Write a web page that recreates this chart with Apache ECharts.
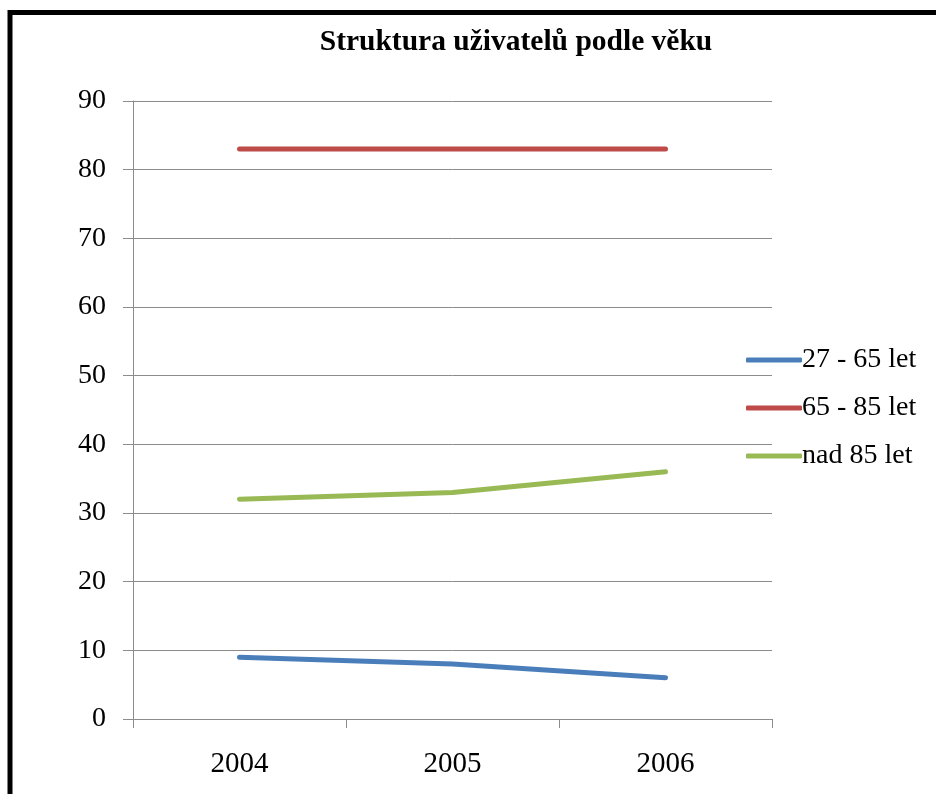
<!DOCTYPE html>
<html>
<head>
<meta charset="utf-8">
<script src="https://cdn.jsdelivr.net/npm/echarts@6/dist/echarts.min.js"></script>
<style>
  html, body { margin: 0; padding: 0; background: #ffffff; }
  #chart { width: 936px; height: 794px; }
</style>
</head>
<body>
<div id="chart"></div>
<script>
// Age structure of service users, 2004-2006
const years = ['2004', '2005', '2006'];
const seriesNames = ['27 - 65 let', '65 - 85 let', 'nad 85 let'];
const age27to65 = [9, 8, 6];
const age65to85 = [83, 83, 83];
const over85 = [32, 33, 36];
const seriesColors = ['#4A7EBB', '#BE4B48', '#98B954'];

const serif = '"Liberation Serif", "Times New Roman", serif';

const chart = echarts.init(document.getElementById('chart'));

function lineSeries(name, data, color) {
  return {
    name: name,
    type: 'line',
    data: data,
    symbol: 'none',
    lineStyle: { color: color, width: 5, cap: 'round', join: 'round' },
    itemStyle: { color: color },
    emphasis: { disabled: true }
  };
}

chart.setOption({
  animation: false,
  backgroundColor: '#ffffff',
  title: {
    text: 'Struktura uživatelů podle věku',
    left: 511,
    textAlign: 'center',
    top: 22,
    textStyle: { fontFamily: serif, fontWeight: 'bold', fontSize: 29.5, color: '#000' }
  },
  legend: {
    orient: 'vertical',
    left: 741,
    top: 341,
    itemWidth: 56,
    itemHeight: 5,
    itemGap: 20,
    icon: 'roundRect',
    data: seriesNames,
    textStyle: { fontFamily: serif, fontSize: 28, color: '#000', padding: [0, 0, 0, -5] }
  },
  grid: { left: 133, right: 164, top: 101, bottom: 75 },
  xAxis: {
    type: 'category',
    data: years,
    boundaryGap: true,
    axisLine: { lineStyle: { color: '#8c8c8c', width: 1 } },
    axisTick: { show: true, length: 9, lineStyle: { color: '#8c8c8c' } },
    axisLabel: { fontFamily: serif, fontSize: 29, color: '#000', margin: 31 }
  },
  yAxis: {
    type: 'value',
    min: 0,
    max: 90,
    interval: 10,
    axisLine: { show: true, lineStyle: { color: '#8c8c8c', width: 1 } },
    axisTick: { show: true, length: 10, lineStyle: { color: '#8c8c8c' } },
    splitLine: { show: true, lineStyle: { color: '#8c8c8c', width: 1 } },
    axisLabel: { fontFamily: serif, fontSize: 28, color: '#000', margin: 27 }
  },
  series: [
    lineSeries(seriesNames[0], age27to65, seriesColors[0]),
    lineSeries(seriesNames[1], age65to85, seriesColors[1]),
    lineSeries(seriesNames[2], over85, seriesColors[2])
  ],
  graphic: [{
    type: 'rect',
    silent: true,
    z: 100,
    shape: { x: 10, y: 12.5, width: 1000, height: 1000 },
    style: { fill: 'none', stroke: '#000', lineWidth: 5 }
  }]
});
</script>
</body>
</html>
